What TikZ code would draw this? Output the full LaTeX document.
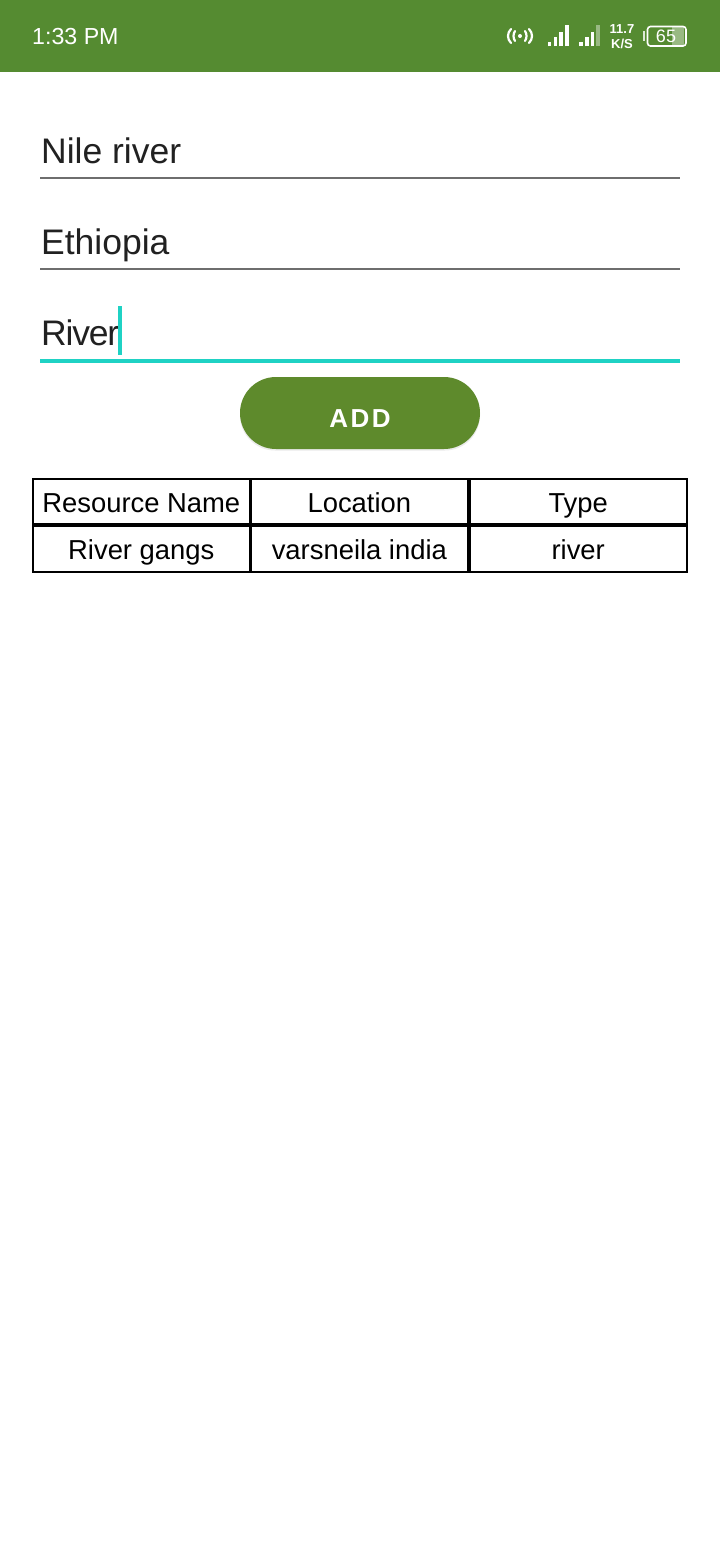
\documentclass[tikz,border=0pt]{standalone}
\usepackage{fontspec}
\setmainfont{Liberation Sans}
\usetikzlibrary{calc}
\definecolor{barGreen}{HTML}{558B31}
\definecolor{btnGreen}{HTML}{5E8A2C}
\definecolor{accentTeal}{HTML}{1FD2C4}
\definecolor{inkGray}{HTML}{212121}
\definecolor{lineGray}{HTML}{6E6E6E}
\newcommand{\px}[1]{\fontsize{#1}{#1}\selectfont}
\tikzset{
  fieldtxt/.style={anchor=base west, inner sep=0pt, text=inkGray, font=\px{35.5}},
  cell/.style={
    rectangle, draw=black, line width=2pt,
    minimum width=216.7pt, minimum height=45.5pt,
    inner sep=0pt, text height=28pt, text depth=6pt,
    font=\px{27.4}, text=black
  },
  statustxt/.style={inner sep=0pt, text=white},
  iconline/.style={draw=white, line width=2.2pt, line cap=round},
  sigbar/.style={draw=white, line width=3.2pt},
}

\begin{document}
\begin{tikzpicture}[x=1pt, y=-1pt]
\useasboundingbox (0,0) rectangle (720,1560);
\fill[white] (0,0) rectangle (720,1560);

%% ── Status bar ──────────────────────────────────────────────────────────────
\fill[barGreen] (0,0) rectangle (720,72);
\node[statustxt, anchor=base west, font=\px{23.2}] (clock) at (32,45) {1:33 PM};

%% ── Hotspot icon ────────────────────────────────────────────────────────────
\fill[white] (520,36) circle (2);
\draw[iconline] (515,31) .. controls (513,34) and (513,38) .. (515,41);
\draw[iconline] (525,31) .. controls (527,34) and (527,38) .. (525,41);
\draw[iconline] (511,29) .. controls (507,33) and (507,39) .. (511,43);
\draw[iconline] (529,29) .. controls (533,33) and (533,39) .. (529,43);

%% ── Signal bars ─────────────────────────────────────────────────────────────
\foreach \bx/\btop in {549.5/42, 555.5/37, 561/32, 567/25, 581/42, 587/37, 592.5/32}
  \draw[sigbar] (\bx,46.5) -- (\bx,\btop);
\draw[sigbar, white!40!barGreen] (598,46.5) -- (598,25);

%% ── Speed ───────────────────────────────────────────────────────────────────
\node[statustxt, font=\bfseries\px{13}] (speedA) at (622,29) {11.7};
\node[statustxt, font=\bfseries\px{13}] (speedB) at (622,44) {K/S};

%% ── Battery ─────────────────────────────────────────────────────────────────
\fill[white!40!barGreen] (672,27) rectangle (684,45);
\draw[white, line width=1.6pt, rounded corners=3pt] (647.5,26.5) rectangle (686,46);
\fill[white!80!barGreen] (643,31.5) rectangle (645,41);
\node[statustxt, font=\px{18}] (batt) at (666,36.5) {65};

%% ── Text fields ─────────────────────────────────────────────────────────────
\node[fieldtxt] (name) at (41,163) {Nile river};
\draw[lineGray, line width=2pt] (40,178) -- (680,178);

\node[fieldtxt] (place) at (41,254) {Ethiopia};
\draw[lineGray, line width=2pt] (40,269) -- (680,269);

\node[fieldtxt, font=\px{35.5}\addfontfeature{LetterSpace=-3.5}] (kind) at (41,345) {River};
\draw[accentTeal, line width=4pt] (40,360.5) -- (680,360.5);
\fill[accentTeal] (118,306) rectangle (122,355);

%% ── Add button ──────────────────────────────────────────────────────────────
\fill[black!8, rounded corners=35pt] (240,379) rectangle (480,450.5);
\node[rectangle, fill=btnGreen, rounded corners=36pt, minimum width=240pt, minimum height=72pt,
  inner sep=0pt] (add) at (360,413) {};
\node[anchor=base, inner sep=0pt, text=white, font=\bfseries\px{26}] (addtxt) at (360,427) {A\kern2.5pt D\kern2.5pt D};

%% ── Table ───────────────────────────────────────────────────────────────────
\node[cell] (h1) at (141.3,501.25)  {Resource Name};
\node[cell] (h2) at (359.35,501.25) {Location};
\node[cell] (h3) at (578.2,501.25)  {Type};
\node[cell] (r1) at (141.3,548.75)  {River gangs};
\node[cell] (r2) at (359.35,548.75) {varsneila india};
\node[cell] (r3) at (578.2,548.75)  {river};

\end{tikzpicture}
\end{document}
